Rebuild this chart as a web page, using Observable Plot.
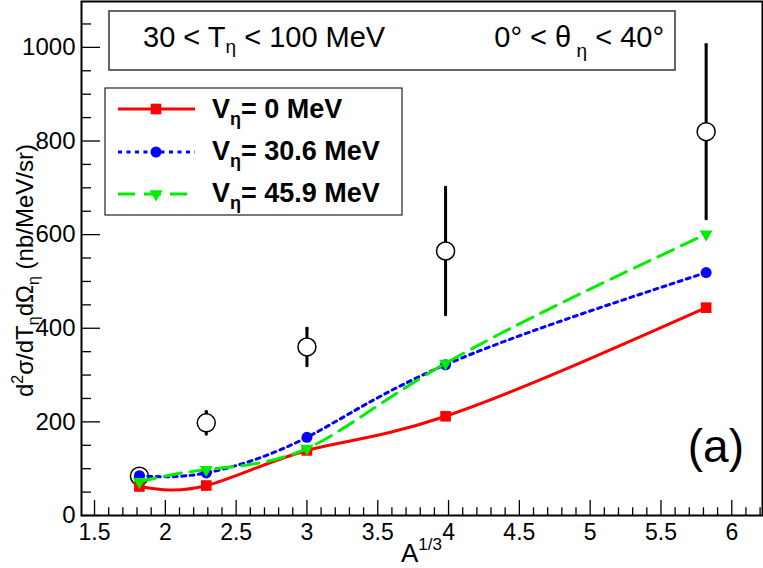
<!DOCTYPE html>
<html><head><meta charset="utf-8">
<script src="https://cdn.jsdelivr.net/npm/d3@7"></script>
<script src="https://cdn.jsdelivr.net/npm/@observablehq/plot@0.6"></script>
<style>body{margin:0;background:#fff} svg{display:block}</style>
</head><body><div id="chart"></div>
<script>
// A^(1/3) of the targets
const aCubeRoot = [1.817, 2.289, 3.0, 3.979, 5.819];
// experimental points (open circles) and their errors
const expValues = [84, 198, 360, 565, 820];
const expErrors = [12, 24, 40, 136, 186];
// calculations
const calcV0 = [62, 64, 139, 212, 444];
const calcV306 = [85, 91, 167, 322, 519];
const calcV459 = [72, 98, 143, 325, 601];
// ticks
const xMajorTicks = [1.5, 2, 2.5, 3, 3.5, 4, 4.5, 5, 5.5, 6];
const xMinorTicks = [1.6,1.7,1.8,1.9,2.1,2.2,2.3,2.4,2.6,2.7,2.8,2.9,3.1,3.2,3.3,3.4,3.6,3.7,3.8,3.9,4.1,4.2,4.3,4.4,4.6,4.7,4.8,4.9,5.1,5.2,5.3,5.4,5.6,5.7,5.8,5.9,6.1,6.2];
const yMajorTicks = [0, 200, 400, 600, 800, 1000];
const yMinorTicks = [50,100,150,250,300,350,450,500,550,650,700,750,850,900,950,1050];
const xDomain = [1.408, 6.217];
const yDomain = [0, 1098];

const FONT = "'Liberation Sans', Arial, Helvetica, sans-serif";
const idx = aCubeRoot.map((_, i) => i);

const series = [
  {values: calcV0, color: "#ff0000", dash: null, symbol: "square", r: 6, rotate: 0},
  {values: calcV306, color: "#0000ff", dash: "4,4.5", symbol: "circle", r: 5.5, rotate: 0},
  {values: calcV459, color: "#00ee00", dash: "17,9", symbol: "triangle", r: 4.8, rotate: 180}
];

const seriesMarks = series.flatMap(s => [
  Plot.line(idx, {x: i => aCubeRoot[i], y: i => s.values[i], stroke: s.color, strokeWidth: 3,
    strokeDasharray: s.dash, curve: "natural"}),
  Plot.dot(idx, {x: i => aCubeRoot[i], y: i => s.values[i], fill: s.color, stroke: "none",
    symbol: s.symbol, r: s.r, rotate: s.rotate})
]);

const chart = Plot.plot({
  width: 763, height: 568,
  marginLeft: 81, marginRight: 1, marginTop: 1, marginBottom: 53,
  style: {fontFamily: FONT, background: "white", color: "black", overflow: "visible"},
  x: {domain: xDomain},
  y: {domain: yDomain},
  marks: [
    Plot.axisX({ticks: xMajorTicks, tickSize: 0, tickPadding: 8, fontSize: 23, label: null, tickFormat: d => String(d)}),
    Plot.axisY({ticks: yMajorTicks, tickSize: 0, tickPadding: 6, fontSize: 24, label: null, tickFormat: d => String(d)}),
    Plot.ruleX(xMajorTicks, {x: d => d, y1: () => yDomain[0], y2: () => yDomain[0], insetTop: -15, stroke: "black", strokeWidth: 1.3}),
    Plot.ruleX(xMinorTicks, {x: d => d, y1: () => yDomain[0], y2: () => yDomain[0], insetTop: -7.7, stroke: "black", strokeWidth: 1.3}),
    Plot.ruleY(yMajorTicks, {y: d => d, x1: () => xDomain[0], x2: () => xDomain[0], insetRight: -19, stroke: "black", strokeWidth: 1.3}),
    Plot.ruleY(yMinorTicks, {y: d => d, x1: () => xDomain[0], x2: () => xDomain[0], insetRight: -10, stroke: "black", strokeWidth: 1.3}),
    // experimental data
    Plot.ruleX(idx, {x: i => aCubeRoot[i], y1: i => expValues[i] - expErrors[i], y2: i => expValues[i] + expErrors[i], stroke: "black", strokeWidth: 3}),
    Plot.dot(idx, {x: i => aCubeRoot[i], y: i => expValues[i] - expErrors[i], symbol: "square", r: 1.6, fill: "black"}),
    Plot.dot(idx, {x: i => aCubeRoot[i], y: i => expValues[i] + expErrors[i], symbol: "square", r: 1.6, fill: "black"}),
    Plot.dot(idx, {x: i => aCubeRoot[i], y: i => expValues[i], r: 9, fill: "white", stroke: "black", strokeWidth: 1.5}),
    ...seriesMarks,
    Plot.frame({stroke: "black", strokeWidth: 2})
  ]
});
document.getElementById("chart").appendChild(chart);

const svg = d3.select(chart);
const g = svg.append("g").attr("font-family", FONT).attr("fill", "black").attr("text-anchor", "start");

// title box
g.append("rect").attr("x", 109).attr("y", 11).attr("width", 566).attr("height", 59)
  .attr("fill", "white").attr("stroke", "#333").attr("stroke-width", 1.5);
const t1 = g.append("text").attr("x", 143).attr("y", 47).attr("font-size", 29).attr("text-anchor", "start");
t1.append("tspan").text("30 < T");
t1.append("tspan").attr("font-size", 19).attr("dy", 6).text("η");
t1.append("tspan").attr("dy", -6).text(" < 100 MeV");
const t2 = g.append("text").attr("x", 664).attr("y", 47).attr("font-size", 29).attr("text-anchor", "end");
t2.append("tspan").text("0° < θ");
t2.append("tspan").attr("font-size", 19).attr("dy", 10).text(" η");
t2.append("tspan").attr("dy", -10).text(" < 40°");

// legend
g.append("rect").attr("x", 105).attr("y", 88).attr("width", 297).attr("height", 127)
  .attr("fill", "white").attr("stroke", "#222").attr("stroke-width", 1.2);
const legendLabels = ["0 MeV", "30.6 MeV", "45.9 MeV"];
const rowY = [109, 152, 194];
const textY = [118, 160, 202];
series.forEach((s, k) => {
  g.append("line").attr("x1", 118).attr("x2", 195).attr("y1", rowY[k]).attr("y2", rowY[k])
    .attr("stroke", s.color).attr("stroke-width", 3).attr("stroke-dasharray", s.dash);
  const sym = {square: d3.symbolSquare, circle: d3.symbolCircle, triangle: d3.symbolTriangle}[s.symbol];
  g.append("path").attr("d", d3.symbol(sym, Math.PI * s.r * s.r)())
    .attr("transform", `translate(156,${rowY[k]}) rotate(${s.rotate})`).attr("fill", s.color);
  const t = g.append("text").attr("x", 212).attr("y", textY[k]).attr("font-size", 27)
    .attr("font-weight", "bold").attr("text-anchor", "start");
  t.append("tspan").text("V");
  t.append("tspan").attr("font-size", 18).attr("dy", 7).text("η");
  t.append("tspan").attr("dy", -7).text("= " + legendLabels[k]);
});

// panel tag
g.append("text").attr("x", 744).attr("y", 462).attr("font-size", 46).attr("text-anchor", "end").text("(a)");

// x title
const xt = g.append("text").attr("x", 401).attr("y", 562).attr("font-size", 26).attr("text-anchor", "start");
xt.append("tspan").text("A");
xt.append("tspan").attr("font-size", 17).attr("dy", -12).text("1/3");

// y title
const yt = g.append("text").attr("transform", "translate(33,397) rotate(-90)").attr("font-size", 24)
  .attr("text-anchor", "start");
yt.append("tspan").text("d");
yt.append("tspan").attr("font-size", 16).attr("dy", -10).text("2");
yt.append("tspan").attr("dy", 10).text("σ/dT");
yt.append("tspan").attr("font-size", 16).attr("dy", 6).text("η");
yt.append("tspan").attr("dy", -6).text("dΩ");
yt.append("tspan").attr("font-size", 16).attr("dy", 6).text("η");
yt.append("tspan").attr("dy", -6).text(" (nb/MeV/sr)");
</script>
</body></html>
